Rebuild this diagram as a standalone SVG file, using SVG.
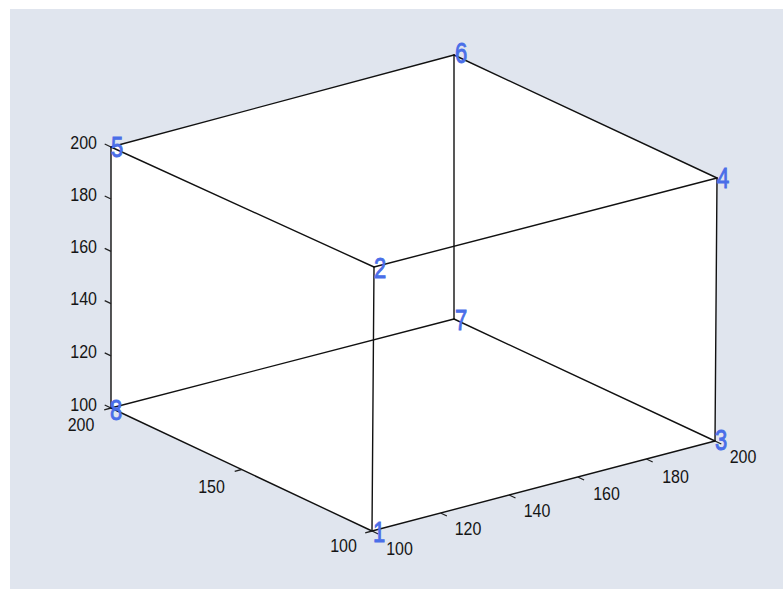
<svg xmlns="http://www.w3.org/2000/svg" width="783" height="589" viewBox="0 0 783 589">
<style>
.e{stroke:#111;stroke-width:1.4;fill:none;stroke-linecap:round}
.t{stroke:#222;stroke-width:1.3;fill:none}
.a{font-family:"Liberation Sans",Arial,sans-serif;font-size:16px;fill:#151515}
.v{font-family:"Liberation Sans",Arial,sans-serif;font-size:22px;fill:#4a6ee8;stroke:#4a6ee8;stroke-width:0.7}
</style>
<rect x="0" y="0" width="783" height="589" fill="#ffffff"/>
<rect x="10" y="9" width="773" height="580" fill="#e0e5ee"/>
<polygon points="111,147 454,55 717,178 715,441 372,531 111,408" fill="#ffffff"/>
<g id="connectors">
<line class="e" x1="111" y1="147" x2="454" y2="55"/>
<line class="e" x1="454" y1="55" x2="717" y2="178"/>
<line class="e" x1="111" y1="147" x2="374" y2="267"/>
<line class="e" x1="374" y1="267" x2="717" y2="178"/>
<line class="e" x1="111" y1="147" x2="111" y2="408"/>
<line class="e" x1="374" y1="267" x2="372" y2="531"/>
<line class="e" x1="454" y1="55" x2="454" y2="319"/>
<line class="e" x1="717" y1="178" x2="715" y2="441"/>
<line class="e" x1="111" y1="408" x2="372" y2="531"/>
<line class="e" x1="372" y1="531" x2="715" y2="441"/>
<line class="e" x1="111" y1="408" x2="454" y2="319"/>
<line class="e" x1="454" y1="319" x2="715" y2="441"/>
</g>
<g id="ticks">
<path class="t" d="M111,147 l-6.3,-3 M111,199 l-6.3,-3 M111,251.4 l-6.3,-3 M111,303.6 l-6.3,-3 M111,355.8 l-6.3,-3 M111,408 l-6.3,-3"/>
<path class="t" d="M111,408 l-6.8,1.8 M241.5,469.5 l-6.8,1.8 M372,531 l-6.8,1.8"/>
<path class="t" d="M372,531 l6.3,3 M440.6,513 l6.3,3 M509.2,495 l6.3,3 M577.8,477 l6.3,3 M646.4,459 l6.3,3 M715,441 l6.3,3"/>
</g>
<g id="z-labels" class="a" text-anchor="end">
<text transform="matrix(1,0,0,1.12,97,149)">200</text>
<text transform="matrix(1,0,0,1.12,97,200.5)">180</text>
<text transform="matrix(1,0,0,1.12,97,253)">160</text>
<text transform="matrix(1,0,0,1.12,97,305)">140</text>
<text transform="matrix(1,0,0,1.12,97,357.5)">120</text>
<text transform="matrix(1,0,0,1.12,97,410.5)">100</text>
</g>
<g id="x-labels" class="a" text-anchor="middle">
<text transform="matrix(1,0,0,1.12,81,431)">200</text>
<text transform="matrix(1,0,0,1.12,211.5,493)">150</text>
<text transform="matrix(1,0,0,1.12,343.5,552)">100</text>
</g>
<g id="y-labels" class="a" text-anchor="middle">
<text transform="matrix(1,0,0,1.12,399.5,555)">100</text>
<text transform="matrix(1,0,0,1.12,468,535)">120</text>
<text transform="matrix(1,0,0,1.12,537,517)">140</text>
<text transform="matrix(1,0,0,1.12,606.5,500)">160</text>
<text transform="matrix(1,0,0,1.12,675.5,483)">180</text>
<text transform="matrix(1,0,0,1.12,743,463)">200</text>
</g>
<g id="node-5"><text class="v" transform="matrix(1,0,0,1.3,111,157)">5</text></g>
<g id="node-6"><text class="v" transform="matrix(1,0,0,1.3,455,63)">6</text></g>
<g id="node-4"><text class="v" transform="matrix(1,0,0,1.3,717,188)">4</text></g>
<g id="node-2"><text class="v" transform="matrix(1,0,0,1.3,374,278)">2</text></g>
<g id="node-7"><text class="v" transform="matrix(1,0,0,1.3,455,330)">7</text></g>
<g id="node-8"><text class="v" transform="matrix(1,0,0,1.3,110,420)">8</text></g>
<g id="node-3"><text class="v" transform="matrix(1,0,0,1.3,715,450)">3</text></g>
<g id="node-1"><text class="v" transform="matrix(1,0,0,1.3,373,542)">1</text></g>
</svg>
